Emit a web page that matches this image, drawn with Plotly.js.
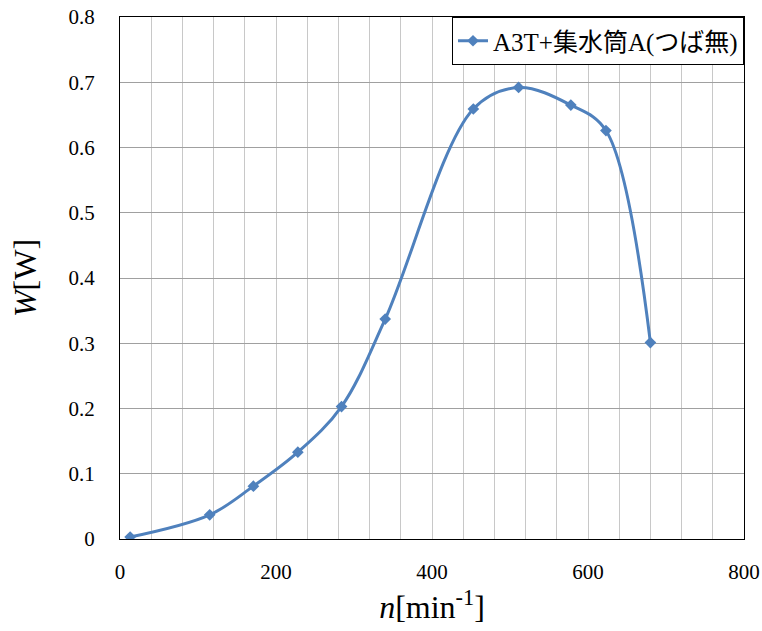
<!DOCTYPE html>
<html>
<head>
<meta charset="utf-8">
<script src="https://cdn.plot.ly/plotly-3.0.1.min.js"></script>
<style>html,body{margin:0;padding:0;background:#fff;}#chart{width:762px;height:631px;}</style>
</head>
<body>
<div id="chart"></div>
<script>
const seriesName = "A3T+集水筒A(つば無)";
const rpm = [13, 115, 171, 228, 284, 340, 453, 511, 578, 623, 680];
const power = [0.003, 0.037, 0.081, 0.133, 0.203, 0.337, 0.659, 0.692, 0.665, 0.626, 0.301];
const xTitle = "<i>n</i>[min<sup>-1</sup>]";
const yTitle = "<i>W</i>[W]";

const FONT = "Times New Roman, serif, Noto Sans CJK JP";
const blue = '#4F81BD';

const trace = {
  x: rpm, y: power, name: seriesName, type: 'scatter', mode: 'lines+markers',
  line: {color: blue, width: 3, shape: 'spline', smoothing: 1},
  marker: {symbol: 'diamond', size: 9, color: blue}
};

const layout = {
  width: 762, height: 631,
  margin: {l: 120, r: 18, t: 17, b: 92},
  paper_bgcolor: '#fff', plot_bgcolor: '#fff',
  font: {family: FONT, color: '#000', size: 21},
  showlegend: true,
  legend: {
    x: 1, y: 1, xanchor: 'right', yanchor: 'top',
    bgcolor: '#fff', bordercolor: '#000', borderwidth: 1,
    font: {family: FONT, size: 25, color: '#000'},
    tracegroupgap: 0, itemwidth: 30
  },
  xaxis: {
    range: [0, 800], dtick: 200, tick0: 0,
    showgrid: true, gridcolor: '#c8c8c8', gridwidth: 1,
    minor: {dtick: 40, showgrid: true, gridcolor: '#c8c8c8', gridwidth: 1},
    showline: true, linecolor: '#000', linewidth: 1, mirror: true,
    zeroline: false, ticks: '', ticklabelstandoff: 14,
    tickfont: {family: FONT, size: 21, color: '#000'},
    title: {text: xTitle, font: {family: FONT, size: 32, color: '#000'}, standoff: 12}
  },
  yaxis: {
    range: [0, 0.8], dtick: 0.1, tick0: 0,
    showgrid: true, gridcolor: '#a0a0a0', gridwidth: 1,
    showline: true, linecolor: '#000', linewidth: 1, mirror: true,
    zeroline: false, ticks: '', ticklabelstandoff: 20,
    tickfont: {family: FONT, size: 21, color: '#000'},
    title: {text: yTitle, font: {family: FONT, size: 32, color: '#000'}, standoff: 22}
  }
};

Plotly.newPlot('chart', [trace], layout, {displayModeBar: false, staticPlot: true});
</script>
</body>
</html>
